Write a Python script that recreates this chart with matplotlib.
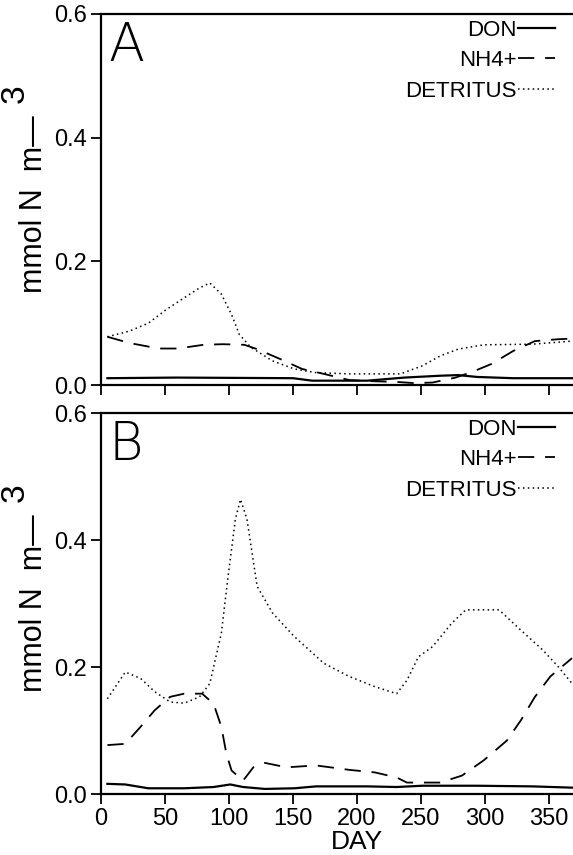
import matplotlib.pyplot as plt

plt.rcParams['font.family'] = ['Liberation Sans', 'DejaVu Sans']

# panel A
day_don_a = [5, 59, 150, 165, 208, 237, 265, 279, 294, 322, 368]
don_a = [0.011, 0.012, 0.011, 0.007, 0.007, 0.012, 0.015, 0.016, 0.013, 0.011, 0.011]

day_nh4_a = [5, 22, 45, 60, 80, 95, 112, 122, 140, 157, 174, 194, 214, 231, 245,
             259, 277, 291, 305, 322, 339, 357, 368]
nh4_a = [0.078, 0.068, 0.059, 0.059, 0.065, 0.066, 0.065, 0.058, 0.042, 0.026, 0.018,
         0.008, 0.006, 0.005, 0.003, 0.004, 0.012, 0.022, 0.034, 0.055, 0.071, 0.074, 0.075]

day_det_a = [5, 22, 37, 51, 65, 77, 85, 94, 102, 108, 117, 134, 151, 168, 194, 234,
             251, 265, 279, 299, 337, 368]
det_a = [0.078, 0.087, 0.100, 0.122, 0.141, 0.157, 0.165, 0.147, 0.114, 0.082, 0.061,
         0.039, 0.026, 0.020, 0.018, 0.018, 0.031, 0.047, 0.058, 0.065, 0.066, 0.071]

# panel B
day_don_b = [5, 19, 37, 65, 88, 101, 111, 128, 151, 168, 208, 231, 251, 294, 337, 368]
don_b = [0.016, 0.015, 0.009, 0.009, 0.011, 0.015, 0.011, 0.008, 0.009, 0.012, 0.012,
         0.011, 0.013, 0.013, 0.012, 0.010]

day_nh4_b = [5, 19, 31, 42, 54, 65, 79, 88, 94, 98, 102, 111, 119, 128, 145, 168, 194,
             214, 231, 239, 265, 282, 299, 317, 328, 339, 351, 368]
nh4_b = [0.077, 0.079, 0.106, 0.132, 0.153, 0.158, 0.158, 0.142, 0.106, 0.063, 0.037,
         0.021, 0.042, 0.049, 0.042, 0.045, 0.038, 0.034, 0.026, 0.018, 0.018, 0.029,
         0.053, 0.084, 0.116, 0.153, 0.185, 0.214]

day_det_b = [5, 19, 31, 42, 54, 65, 77, 85, 94, 99, 105, 109, 114, 122, 134, 151, 174,
             194, 214, 231, 239, 248, 259, 274, 285, 311, 328, 345, 357, 368]
det_b = [0.150, 0.192, 0.182, 0.161, 0.145, 0.143, 0.153, 0.174, 0.253, 0.338, 0.433,
         0.464, 0.433, 0.327, 0.285, 0.248, 0.206, 0.185, 0.169, 0.158, 0.179, 0.216,
         0.232, 0.269, 0.290, 0.290, 0.258, 0.227, 0.201, 0.174]

xticks = [0, 50, 100, 150, 200, 250, 300, 350]
yticks = [0.0, 0.2, 0.4, 0.6]

W, H = 573, 855
fig = plt.figure(figsize=(W / 100, H / 100), dpi=100)

# axes run 0-400 days; the right part falls off the page edge
ax_w = (613 - 101) / W
ax_a = fig.add_axes([101 / W, 1 - 385 / H, ax_w, 371 / H])
ax_b = fig.add_axes([101 / W, 1 - 794 / H, ax_w, 381 / H])

panels = [
    (ax_a, 'A', 0, day_don_a, don_a, day_nh4_a, nh4_a, day_det_a, det_a),
    (ax_b, 'B', 399, day_don_b, don_b, day_nh4_b, nh4_b, day_det_b, det_b),
]

for ax, tag, dy, xd, yd, xn, yn, xt, yt in panels:
    ax.plot(xd, yd, color='black', lw=1.6, label='DON')
    ax.plot(xn, yn, color='black', lw=1.3, dashes=(9, 6), label='NH4+')
    ax.plot(xt, yt, color='black', lw=1.1, linestyle=(0, (1, 2.2)), label='DETRITUS')
    ax.set_xlim(0, 400)
    ax.set_ylim(0, 0.6)
    ax.set_xticks(xticks)
    ax.set_yticks(yticks)
    ax.set_yticklabels([f'{v:.1f}' for v in yticks])
    ax.tick_params(direction='out', length=7, width=1.3, labelsize=17, pad=3)
    for s in ax.spines.values():
        s.set_linewidth(1.6)
    ax.spines['right'].set_visible(False)

    # y label: unit text with a long minus, exponent raised at full size
    fig.text(42 / W, 1 - (204 + dy) / H, 'mmol N  m\u2014', fontsize=22,
             rotation=90, rotation_mode='anchor', ha='center', va='baseline')
    fig.text(24 / W, 1 - (94 + dy) / H, '3', fontsize=24,
             rotation=90, rotation_mode='anchor', ha='center', va='baseline')

    ax.text(0.015, 0.985, tag, transform=ax.transAxes, fontsize=38,
            family=['DejaVu Sans'], fontweight=200, va='top', ha='left')
    ax.legend(loc='upper right', frameon=False, markerfirst=False,
              prop={'size': 16}, borderpad=0,
              handlelength=1.67, handletextpad=0.08, labelspacing=0.43,
              borderaxespad=0.0, bbox_to_anchor=(0.887, 0.985))

ax_a.set_xticklabels([])
ax_b.set_xlabel('DAY', fontsize=19, labelpad=0)

fig.savefig('out.png', dpi=100)
